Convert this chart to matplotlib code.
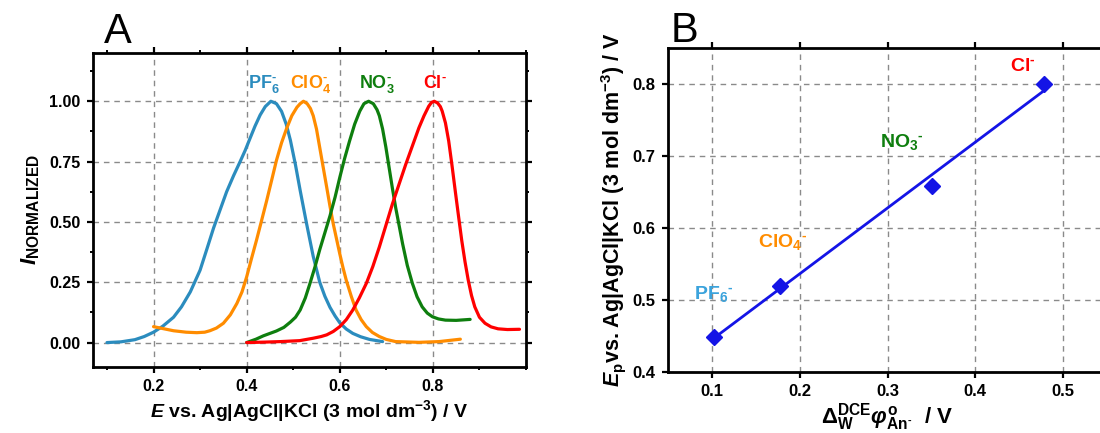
import numpy as np
import matplotlib
matplotlib.use('Agg')
import matplotlib.pyplot as plt
from matplotlib.ticker import MultipleLocator

plt.rcParams['font.family'] = ['Liberation Sans', 'DejaVu Sans']
plt.rcParams['font.weight'] = 'bold'
plt.rcParams['axes.labelweight'] = 'bold'
plt.rcParams['mathtext.fontset'] = 'custom'
plt.rcParams['mathtext.rm'] = 'Liberation Sans:bold'
plt.rcParams['mathtext.it'] = 'Liberation Sans:italic:bold'
plt.rcParams['mathtext.bf'] = 'Liberation Sans:bold'
plt.rcParams['mathtext.default'] = 'rm'

# ---------------- data: panel A (normalized voltammograms) ----------------
pf6_x = [0.10, 0.13, 0.16, 0.18, 0.20, 0.22, 0.243, 0.26, 0.279, 0.30, 0.315, 0.329,
         0.343, 0.357, 0.372, 0.386, 0.397, 0.407, 0.418, 0.429, 0.44, 0.452, 0.464,
         0.475, 0.485, 0.494, 0.505, 0.515, 0.529, 0.543, 0.557, 0.568, 0.579, 0.59,
         0.60, 0.614, 0.628, 0.645, 0.664, 0.692]
pf6_y = [0.0, 0.003, 0.012, 0.025, 0.043, 0.068, 0.105, 0.148, 0.21, 0.30, 0.39, 0.475,
         0.55, 0.625, 0.692, 0.75, 0.797, 0.845, 0.897, 0.943, 0.978, 1.0, 0.99,
         0.958, 0.905, 0.838, 0.735, 0.63, 0.49, 0.357, 0.25, 0.192, 0.146, 0.11,
         0.082, 0.056, 0.038, 0.024, 0.013, 0.004]

clo4_x = [0.20, 0.22, 0.243, 0.27, 0.293, 0.31, 0.321, 0.335, 0.35, 0.365, 0.379, 0.39,
          0.40, 0.41, 0.421, 0.432, 0.443, 0.454, 0.464, 0.475, 0.486, 0.497, 0.508,
          0.515, 0.522, 0.53, 0.537, 0.543, 0.55, 0.557, 0.565, 0.572, 0.579, 0.586,
          0.593, 0.60, 0.607, 0.614, 0.625, 0.635, 0.646, 0.657, 0.67, 0.685, 0.70,
          0.72, 0.77, 0.813, 0.859]
clo4_y = [0.066, 0.058, 0.049, 0.043, 0.041, 0.043, 0.049, 0.06, 0.08, 0.115, 0.162, 0.21,
          0.272, 0.345, 0.423, 0.505, 0.588, 0.675, 0.755, 0.828, 0.888, 0.94, 0.975,
          0.99, 1.0, 0.99, 0.97, 0.94, 0.885, 0.808, 0.72, 0.643, 0.565, 0.492,
          0.43, 0.368, 0.31, 0.258, 0.19, 0.135, 0.095, 0.066, 0.042, 0.025, 0.013,
          0.004, 0.001, 0.004, 0.014]

no3_x = [0.40, 0.42, 0.436, 0.45, 0.464, 0.48, 0.494, 0.505, 0.515, 0.526, 0.536, 0.547,
         0.557, 0.568, 0.579, 0.59, 0.60, 0.61, 0.621, 0.632, 0.643, 0.652, 0.662,
         0.672, 0.68, 0.685, 0.692, 0.699, 0.706, 0.713, 0.72, 0.728, 0.735, 0.745,
         0.756, 0.766, 0.777, 0.788, 0.799, 0.812, 0.827, 0.85, 0.88]
no3_y = [0.0, 0.014, 0.028, 0.038, 0.048, 0.063, 0.085, 0.105, 0.135, 0.185, 0.245, 0.315,
         0.385, 0.455, 0.525, 0.603, 0.684, 0.76, 0.835, 0.905, 0.959, 0.99, 1.0,
         0.99, 0.965, 0.94, 0.885, 0.81, 0.725, 0.64, 0.56, 0.48, 0.409, 0.32,
         0.245, 0.19, 0.148, 0.122, 0.107, 0.098, 0.093, 0.092, 0.096]

cl_x = [0.40, 0.44, 0.472, 0.514, 0.543, 0.56, 0.572, 0.586, 0.60, 0.614, 0.628, 0.642,
        0.657, 0.671, 0.685, 0.699, 0.713, 0.728, 0.742, 0.756, 0.77, 0.781, 0.791,
        0.797, 0.803, 0.81, 0.816, 0.82, 0.827, 0.834, 0.841, 0.848, 0.855, 0.862,
        0.869, 0.876, 0.883, 0.89, 0.90, 0.912, 0.925, 0.94, 0.96, 0.986]
cl_y = [0.0, 0.002, 0.004, 0.008, 0.018, 0.025, 0.032, 0.046, 0.066, 0.095, 0.135, 0.185,
        0.245, 0.315, 0.396, 0.485, 0.574, 0.66, 0.74, 0.815, 0.89, 0.94, 0.979,
        0.995, 1.0, 0.993, 0.978, 0.959, 0.91, 0.835, 0.735, 0.629, 0.525, 0.423,
        0.335, 0.258, 0.195, 0.148, 0.105, 0.08, 0.065, 0.057, 0.054, 0.055]

# ---------------- data: panel B ----------------
dphi = [0.102, 0.177, 0.351, 0.478]
ep = [0.449, 0.519, 0.659, 0.800]

c_blue = '#2b8cbe'
c_orange = '#ff8c00'
c_green = '#0e7e0e'
c_red = '#ff0000'
c_lblue = '#3ba3dc'
c_mark = '#1414e6'

HY = '\u2010'  # short hyphen used as the charge sign

fig = plt.figure(figsize=(11, 4.33), dpi=100)

grid_kw = dict(color='#8a8a8a', linestyle=(0, (4, 3.5)), linewidth=1.0)

# ---------------- Panel A ----------------
axA = fig.add_axes([93 / 1100, 1 - 366.7 / 433, (526 - 93) / 1100, (366.7 - 53) / 433])
lw = 2.3
for xs, ys, c in ((pf6_x, pf6_y, c_blue), (clo4_x, clo4_y, c_orange),
                  (no3_x, no3_y, c_green), (cl_x, cl_y, c_red)):
    axA.plot(xs, ys, color=c, lw=lw, solid_capstyle='round', solid_joinstyle='round', zorder=3)
axA.set_xlim(0.07, 1.0)
axA.set_ylim(-0.1, 1.2)
axA.xaxis.set_minor_locator(MultipleLocator(0.1))
axA.yaxis.set_minor_locator(MultipleLocator(0.125))
axA.set_xticks([0.2, 0.4, 0.6, 0.8])
axA.set_xticklabels(['0.2', '0.4', '0.6', '0.8'])
axA.set_yticks([0.0, 0.25, 0.5, 0.75, 1.0])
axA.set_yticklabels(['0.00', '0.25', '0.50', '0.75', '1.00'])
axA.grid(True, which='major', **grid_kw)
axA.set_axisbelow(True)

lab_fs = 13
axA.text(0.403, 1.057, 'PF$_6^{' + HY + '}$', color=c_blue, fontsize=lab_fs, fontweight='bold')
axA.text(0.493, 1.057, 'ClO$_4^{' + HY + '}$', color=c_orange, fontsize=lab_fs, fontweight='bold')
axA.text(0.641, 1.057, 'NO$_3^{' + HY + '}$', color=c_green, fontsize=lab_fs, fontweight='bold')
axA.text(0.778, 1.057, 'Cl$^{' + HY + '}$', color=c_red, fontsize=lab_fs, fontweight='bold')

axA.set_xlabel(r'$\mathit{E}$ vs. Ag|AgCl|KCl (3 mol dm$^{-3}$) / V', fontsize=14, labelpad=3)
axA.set_ylabel(r'$\mathit{I}_{\mathrm{NORMALIZED}}$', fontsize=16, labelpad=5)
fig.text(104 / 1100, 1 - 43 / 433, 'A', fontsize=30, fontweight='normal', va='baseline', ha='left')

# ---------------- Panel B ----------------
axB = fig.add_axes([668 / 1100, 1 - 372 / 433, (1107 - 668) / 1100, (372 - 48) / 433])
slope, icpt = np.polyfit(dphi, ep, 1)
fx = np.array([dphi[0], dphi[-1]])
axB.plot(fx, slope * fx + icpt, color=c_mark, lw=2.0, zorder=3)
axB.plot(dphi, ep, linestyle='none', marker='D', markersize=8, color=c_mark, zorder=4)
axB.set_xlim(0.05, 0.55)
axB.set_ylim(0.4, 0.85)
axB.set_xticks([0.1, 0.2, 0.3, 0.4, 0.5])
axB.set_xticklabels(['0.1', '0.2', '0.3', '0.4', '0.5'])
axB.set_yticks([0.4, 0.5, 0.6, 0.7, 0.8])
axB.set_yticklabels(['0.4', '0.5', '0.6', '0.7', '0.8'])
axB.grid(True, which='major', **grid_kw)
axB.set_axisbelow(True)

bfs = 14
axB.text(0.44, 0.818, 'Cl$^{' + HY + '}$', color=c_red, fontsize=bfs, fontweight='bold')
axB.text(0.292, 0.713, 'NO$_3$$^{' + HY + '}$', color=c_green, fontsize=bfs, fontweight='bold')
axB.text(0.153, 0.574, 'ClO$_4$$^{' + HY + '}$', color=c_orange, fontsize=bfs, fontweight='bold')
axB.text(0.080, 0.502, 'PF$_6$$^{' + HY + '}$', color=c_lblue, fontsize=bfs, fontweight='bold')

axB.set_xlabel(r'$\Delta_{\mathrm{W}}^{\mathrm{DCE}}\mathit{\varphi}_{\mathrm{An}^{' + HY + r'}}^{\mathrm{o}}$  / V',
               fontsize=16, labelpad=1)
axB.set_ylabel(r'$\mathit{E}_{\mathrm{p}}$vs. Ag|AgCl|KCl (3 mol dm$^{-3}$) / V', fontsize=15.5, labelpad=3)
fig.text(671 / 1100, 1 - 42 / 433, 'B', fontsize=30, fontweight='normal', va='baseline', ha='left')

for ax, fs in ((axA, 11.5), (axB, 12)):
    for s in ax.spines.values():
        s.set_linewidth(2.0)
    ax.tick_params(which='major', direction='out', length=4, width=1.6, labelsize=fs, pad=5)
    ax.tick_params(which='minor', direction='out', length=2.5, width=1.4)
    ax.tick_params(which='both', top=True, right=True)
    for lab in ax.get_xticklabels() + ax.get_yticklabels():
        lab.set_fontweight('bold')

fig.savefig('out.png', dpi=100)
